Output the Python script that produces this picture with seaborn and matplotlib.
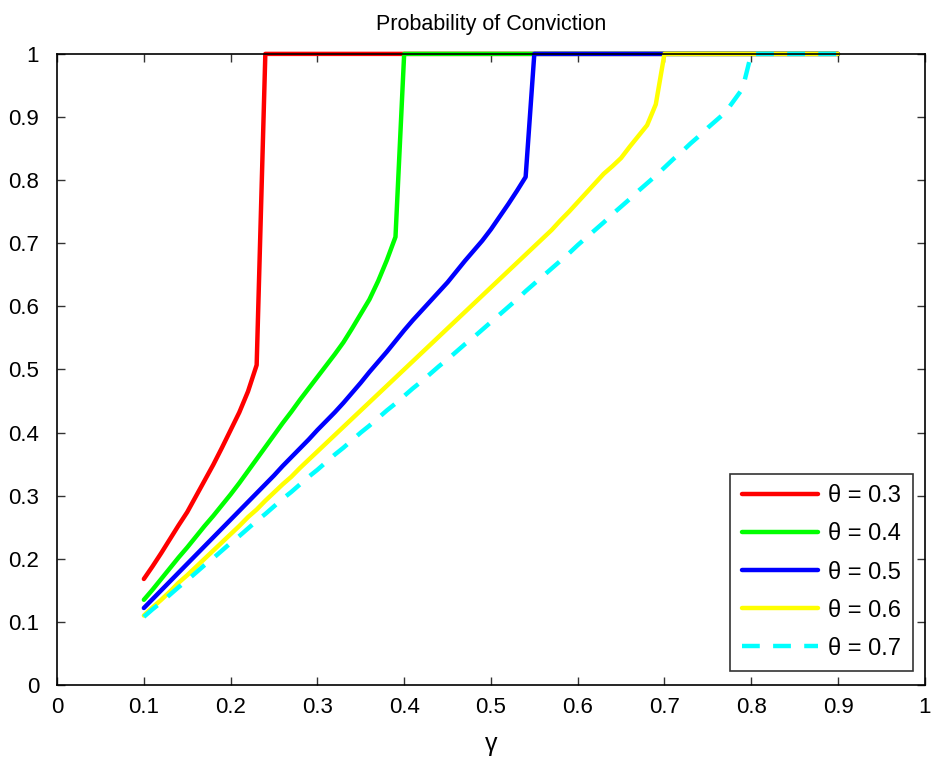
import numpy as np
import pandas as pd
import seaborn as sns
from matplotlib import pyplot as plt

sns.set_style('white')
plt.rcParams['font.family'] = ['Liberation Sans', 'DejaVu Sans']
plt.rcParams['text.color'] = 'black'
plt.rcParams['axes.labelcolor'] = 'black'

gamma = np.round(np.arange(0.10, 0.901, 0.01), 2)

# rising parts, the rest sits at 1 up to gamma = 0.9
theta03 = [0.168, 0.188, 0.209, 0.231, 0.253, 0.274, 0.299, 0.324, 0.349, 0.376,
           0.404, 0.432, 0.465, 0.507]
theta04 = [0.135, 0.151, 0.168, 0.185, 0.202, 0.218, 0.235, 0.252, 0.268, 0.285,
           0.302, 0.320, 0.339, 0.358, 0.377, 0.396, 0.415, 0.433, 0.452, 0.470,
           0.488, 0.506, 0.524, 0.543, 0.565, 0.588, 0.611, 0.640, 0.673, 0.710]
theta05 = [0.122, 0.136, 0.150, 0.164, 0.178, 0.192, 0.206, 0.220, 0.234, 0.248,
           0.262, 0.276, 0.290, 0.304, 0.318, 0.332, 0.347, 0.361, 0.375, 0.389,
           0.404, 0.418, 0.432, 0.447, 0.463, 0.479, 0.496, 0.512, 0.528, 0.545,
           0.562, 0.578, 0.593, 0.608, 0.623, 0.638, 0.655, 0.672, 0.688, 0.704,
           0.722, 0.742, 0.762, 0.783, 0.805]
theta06 = [0.110, 0.123, 0.135, 0.148, 0.162, 0.174, 0.187, 0.200, 0.213, 0.226,
           0.239, 0.252, 0.266, 0.278, 0.292, 0.305, 0.318, 0.330, 0.344, 0.357,
           0.370, 0.383, 0.396, 0.409, 0.422, 0.435, 0.448, 0.461, 0.474, 0.487,
           0.500, 0.513, 0.526, 0.539, 0.552, 0.565, 0.578, 0.591, 0.604, 0.617,
           0.630, 0.643, 0.656, 0.669, 0.682, 0.695, 0.708, 0.721, 0.736, 0.750,
           0.765, 0.780, 0.795, 0.810, 0.822, 0.835, 0.853, 0.870, 0.887, 0.920]
theta07 = [0.108, 0.120, 0.131, 0.143, 0.155, 0.166, 0.178, 0.190, 0.201, 0.213,
           0.225, 0.236, 0.248, 0.260, 0.271, 0.283, 0.295, 0.306, 0.318, 0.330,
           0.341, 0.353, 0.365, 0.376, 0.388, 0.400, 0.411, 0.423, 0.435, 0.446,
           0.458, 0.470, 0.481, 0.493, 0.505, 0.516, 0.528, 0.540, 0.551, 0.563,
           0.575, 0.587, 0.599, 0.611, 0.624, 0.636, 0.648, 0.660, 0.672, 0.684,
           0.697, 0.709, 0.721, 0.733, 0.746, 0.758, 0.770, 0.783, 0.795, 0.807,
           0.820, 0.833, 0.845, 0.858, 0.870, 0.883, 0.895, 0.907, 0.926, 0.945]

thetas = ['0.3', '0.4', '0.5', '0.6', '0.7']
series = [theta03, theta04, theta05, theta06, theta07]
colors = ['#ff0000', '#00ff00', '#0000ff', '#ffff00', '#00ffff']

frames = []
for th, vals in zip(thetas, series):
    y = list(vals) + [1.0] * (len(gamma) - len(vals))
    frames.append(pd.DataFrame({'gamma': gamma, 'p': y, 'theta': 'θ = ' + th}))
df = pd.concat(frames, ignore_index=True)

labels = ['θ = ' + t for t in thetas]
fig = plt.figure(figsize=(9.36, 7.59), dpi=100)
ax = fig.add_axes([0.061, 0.0975, 0.927, 0.8315])
sns.lineplot(data=df, x='gamma', y='p', hue='theta', style='theta',
             hue_order=labels, style_order=labels,
             palette=dict(zip(labels, colors)),
             dashes={l: ('' if i < 4 else (4, 3)) for i, l in enumerate(labels)},
             linewidth=3.2, ax=ax)
for ln in ax.lines:
    ln.set_clip_on(False)

ax.set_xlim(0, 1)
ax.set_ylim(0, 1)
ax.set_xticks(np.arange(0, 1.01, 0.1))
ax.set_yticks(np.arange(0, 1.01, 0.1))
ax.set_xticklabels(['0'] + ['%.1f' % v for v in np.arange(0.1, 0.95, 0.1)] + ['1'])
ax.set_yticklabels(['0'] + ['%.1f' % v for v in np.arange(0.1, 0.95, 0.1)] + ['1'])
ax.tick_params(direction='in', length=6, width=1, colors='#333333',
               labelcolor='black', labelsize=16, top=True, right=True,
               bottom=True, left=True)
ax.tick_params(axis='y', pad=13)
ax.tick_params(axis='x', pad=9)
for s in ax.spines.values():
    s.set_color('black')
    s.set_linewidth(1.2)
ax.set_xlabel('γ', fontsize=18, labelpad=10)
ax.set_ylabel('')
ax.set_title('Probability of Conviction', fontsize=15.5, pad=17)

leg = ax.legend(loc='lower right', bbox_to_anchor=(0.992, 0.014), fontsize=17,
                handlelength=3.2, handletextpad=0.45, labelspacing=0.68,
                borderpad=0.5, borderaxespad=0.2, fancybox=False, frameon=True)
leg.get_frame().set_edgecolor('black')
leg.get_frame().set_linewidth(1.2)
for t in leg.get_texts():
    t.set_color('black')
for ln in leg.get_lines():
    ln.set_clip_on(True)

fig.savefig('out.png', dpi=100)
